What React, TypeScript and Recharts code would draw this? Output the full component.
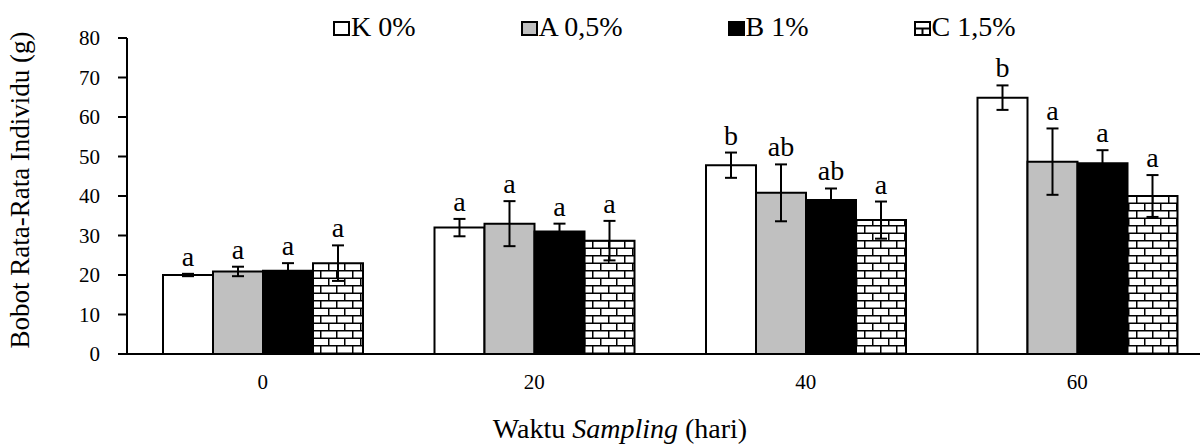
import React from 'react';
import { BarChart, Bar, XAxis, YAxis, ErrorBar, LabelList, Label } from 'recharts';

const days = ['0', '20', '40', '60'];
const yTicks = [0, 10, 20, 30, 40, 50, 60, 70, 80];

const kMean = [20.0, 32.0, 47.8, 64.9];
const kErr = [0.3, 2.2, 3.2, 3.1];
const kSig = ['a', 'a', 'b', 'b'];

const aMean = [20.9, 33.0, 40.8, 48.7];
const aErr = [1.2, 5.7, 7.2, 8.4];
const aSig = ['a', 'a', 'ab', 'a'];

const bMean = [21.1, 31.0, 39.0, 48.3];
const bErr = [1.9, 2.0, 2.9, 3.3];
const bSig = ['a', 'a', 'ab', 'a'];

const cMean = [23.0, 28.7, 33.9, 40.0];
const cErr = [4.5, 5.0, 4.7, 5.3];
const cSig = ['a', 'a', 'a', 'a'];

const series = [
  { key: 'k', name: 'K 0%', mean: kMean, err: kErr, sig: kSig, fill: '#ffffff' },
  { key: 'a', name: 'A 0,5%', mean: aMean, err: aErr, sig: aSig, fill: '#c0c0c0' },
  { key: 'b', name: 'B 1%', mean: bMean, err: bErr, sig: bSig, fill: '#000000' },
  { key: 'c', name: 'C 1,5%', mean: cMean, err: cErr, sig: cSig, fill: 'url(#brick)' },
];

const data = days.map((day, i) => {
  const row: Record<string, string | number> = { day };
  series.forEach((s) => {
    row[s.key] = s.mean[i];
    row[s.key + 'Err'] = s.err[i];
    row[s.key + 'Sig'] = s.sig[i];
  });
  return row;
});

const FONT = 'Liberation Serif, Tinos, DejaVu Serif, serif';

// significance letters sit just above the top of each error bar
const sigLabel = (means: number[], errs: number[]) => (props: any) => {
  const vb = props.viewBox || props;
  const x = vb.x ?? props.x;
  const y = vb.y ?? props.y;
  const width = vb.width ?? props.width;
  const height = vb.height ?? props.height;
  const i = props.index;
  const perUnit = height / means[i];
  const top = y - errs[i] * perUnit;
  return (
    <text x={x + width / 2} y={top - 8} textAnchor="middle" fontSize={28} fontFamily={FONT} fill="#000">
      {props.value}
    </text>
  );
};

const LegendIcon = ({ k }: { k: string }) => {
  const s = series.find((d) => d.key === k)!;
  return (
    <svg width={17} height={15} style={{ marginRight: 1, marginTop: 2 }}>
      <rect x={1} y={1} width={15} height={13} fill={k === 'c' ? '#fff' : s.fill} stroke="#000" strokeWidth={2} />
      {k === 'c' && (
        <>
          <line x1={1} y1={7.5} x2={16} y2={7.5} stroke="#000" strokeWidth={2} />
          <line x1={8.5} y1={7.5} x2={8.5} y2={14} stroke="#000" strokeWidth={2} />
        </>
      )}
    </svg>
  );
};

export default function App() {
  return (
    <div
      style={{
        position: 'fixed',
        left: 0,
        top: 0,
        width: 1200,
        height: 445,
        overflow: 'hidden',
        background: '#fff',
        fontFamily: FONT,
      }}
    >
      <BarChart
        width={1230}
        height={445}
        data={data}
        margin={{ top: 38, right: 17, bottom: 31, left: 0 }}
        barSize={50}
        barGap={0}
        style={{ fontFamily: FONT }}
      >
        <defs>
          <pattern id="brick" patternUnits="userSpaceOnUse" width={16} height={15}>
            <rect x={0} y={0} width={16} height={15} fill="#000" />
            <rect x={1.5} y={1.5} width={14.5} height={6} fill="#fff" />
            <rect x={0} y={9} width={8} height={6} fill="#fff" />
            <rect x={9.5} y={9} width={6.5} height={6} fill="#fff" />
          </pattern>
        </defs>
        <XAxis
          dataKey="day"
          height={60}
          tickLine={false}
          tickSize={0}
          tickMargin={20}
          axisLine={{ stroke: '#000', strokeWidth: 2 }}
          tick={{ fill: '#000', fontSize: 21, fontFamily: FONT }}
        >
          <Label
            content={(p: any) => {
              const vb = p.viewBox;
              return (
                <text x={vb.x + vb.width / 2 - 50} y={438} textAnchor="middle" fontSize={28} fontFamily={FONT} fill="#000">
                  Waktu <tspan fontStyle="italic">Sampling</tspan> (hari)
                </text>
              );
            }}
          />
        </XAxis>
        <YAxis
          width={127}
          domain={[0, 80]}
          ticks={yTicks}
          interval={0}
          tickSize={9}
          tickMargin={18}
          axisLine={{ stroke: '#000', strokeWidth: 2 }}
          tickLine={{ stroke: '#000', strokeWidth: 2 }}
          tick={{ fill: '#000', fontSize: 21, fontFamily: FONT }}
        >
          <Label
            content={() => (
              <text
                x={29}
                y={190}
                transform="rotate(-90, 29, 190)"
                textAnchor="middle"
                fontSize={27}
                fontFamily={FONT}
                fill="#000"
              >
                Bobot Rata-Rata Individu (g)
              </text>
            )}
          />
        </YAxis>
        {series.map((s) => (
          <Bar
            key={s.key}
            dataKey={s.key}
            name={s.name}
            fill={s.fill}
            stroke="#000"
            strokeWidth={2}
            isAnimationActive={false}
          >
            <ErrorBar dataKey={s.key + 'Err'} width={6} stroke="#000" strokeWidth={2} direction="y" />
            <LabelList dataKey={s.key + 'Sig'} content={sigLabel(s.mean, s.err)} />
          </Bar>
        ))}
      </BarChart>
      <div
        style={{
          position: 'absolute',
          top: 10,
          left: 333,
          height: 34,
          display: 'flex',
          alignItems: 'center',
          gap: 105,
          fontSize: 28,
          lineHeight: '34px',
          color: '#000',
          whiteSpace: 'nowrap',
        }}
      >
        {series.map((s) => (
          <div key={s.key} style={{ display: 'flex', alignItems: 'center' }}>
            <LegendIcon k={s.key} />
            <span>{s.name}</span>
          </div>
        ))}
      </div>
    </div>
  );
}
